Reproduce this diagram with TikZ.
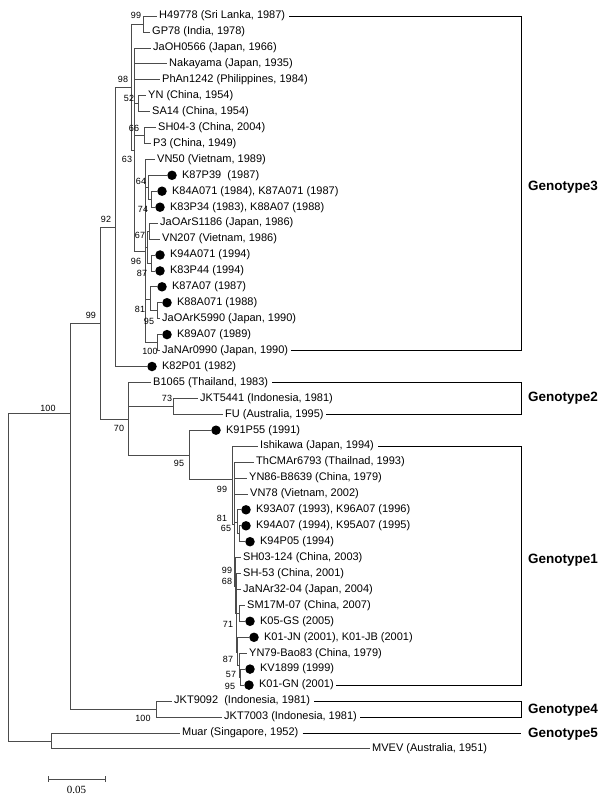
\documentclass[tikz,border=0pt]{standalone}
\usepackage{fontspec}
\setmainfont{Liberation Sans}
\newfontfamily\barfont{Liberation Serif}
\usetikzlibrary{positioning}
\tikzset{
  br/.style={draw=black!70, line width=.7pt},
  brk/.style={draw=black, line width=.75pt, shorten <=1.5pt},
  leaf/.style={anchor=west, inner xsep=2.5pt, inner ysep=1pt, font=\fontsize{11}{13}\selectfont},
  spot/.style={circle, fill=black, inner sep=0pt, minimum size=9.5pt},
  boot/.style={inner sep=0pt, font=\fontsize{9}{10}\selectfont},
  geno/.style={anchor=west, inner sep=0pt, font=\fontsize{13.5}{15}\selectfont\bfseries},
}
\begin{document}
\begin{tikzpicture}[x=1pt, y=-1pt]
  \useasboundingbox (0,0) rectangle (600,799);

  % inner nodes
  \coordinate (root) at (8,577);
  \coordinate (n100) at (70,413);
  \coordinate (n99) at (100,323);
  \coordinate (n92) at (115,227);
  \coordinate (n98) at (131,87);
  \coordinate (n99a) at (143,24);
  \coordinate (n63) at (134,150);
  \coordinate (n52) at (138,103.6);
  \coordinate (n66) at (144,135.5);
  \coordinate (nvn) at (145,251);
  \coordinate (n64) at (148,187);
  \coordinate (n74) at (151,199.2);
  \coordinate (n96) at (147,247);
  \coordinate (n67) at (149,231);
  \coordinate (n87) at (151.5,263);
  \coordinate (n81) at (150,299);
  \coordinate (n95) at (157,310.7);
  \coordinate (n100b) at (157,342.5);
  \coordinate (n70) at (128,419);
  \coordinate (n73) at (173,406.3);
  \coordinate (n95b) at (189,455);
  \coordinate (g1) at (232,479);
  \coordinate (g1b) at (234,524);
  \coordinate (n81c) at (237,522);
  \coordinate (n65) at (239.5,533.7);
  \coordinate (n99d) at (235.5,586);
  \coordinate (n68) at (236.5,613);
  \coordinate (n71) at (239,613.4);
  \coordinate (n87c) at (237.5,652);
  \coordinate (n57) at (239,665);
  \coordinate (n95c) at (240.5,677);
  \coordinate (njkt) at (156,709);
  \coordinate (nout) at (51,741);

  % genotype 3
  \node[leaf] (H49778) at (156.5,16) {H49778 (Sri Lanka, 1987)};
  \node[leaf] (GP78) at (149.5,31.9) {GP78 (India, 1978)};
  \node[leaf] (JaOH0566) at (150.5,47.9) {JaOH0566 (Japan, 1966)};
  \node[leaf] (Nakayama) at (166.5,63.8) {Nakayama (Japan, 1935)};
  \node[leaf] (PhAn1242) at (159.5,79.7) {PhAn1242 (Philippines, 1984)};
  \node[leaf] (YN) at (145.5,95.7) {YN (China, 1954)};
  \node[leaf] (SA14) at (149.5,111.6) {SA14 (China, 1954)};
  \node[leaf] (SH043) at (155.5,127.5) {SH04-3 (China, 2004)};
  \node[leaf] (P3) at (150.5,143.4) {P3 (China, 1949)};
  \node[leaf] (VN50) at (154.5,159.4) {VN50 (Vietnam, 1989)};
  \node[spot] (dK87P39) at (172,175.3) {};
  \node[leaf, right=2.5pt of dK87P39] (K87P39) {K87P39~~(1987)};
  \node[spot] (dK84A071) at (162,191.2) {};
  \node[leaf, right=2.5pt of dK84A071] (K84A071) {K84A071 (1984), K87A071 (1987)};
  \node[spot] (dK83P34) at (160,207.2) {};
  \node[leaf, right=2.5pt of dK83P34] (K83P34) {K83P34 (1983), K88A07 (1988)};
  \node[leaf] (JaOArS1186) at (157.5,223.1) {JaOArS1186 (Japan, 1986)};
  \node[leaf] (VN207) at (159.5,239) {VN207 (Vietnam, 1986)};
  \node[spot] (dK94A071) at (160,255) {};
  \node[leaf, right=2.5pt of dK94A071] (K94A071) {K94A071 (1994)};
  \node[spot] (dK83P44) at (160,270.9) {};
  \node[leaf, right=2.5pt of dK83P44] (K83P44) {K83P44 (1994)};
  \node[spot] (dK87A07) at (162,286.8) {};
  \node[leaf, right=2.5pt of dK87A07] (K87A07) {K87A07 (1987)};
  \node[spot] (dK88A071) at (167,302.7) {};
  \node[leaf, right=2.5pt of dK88A071] (K88A071) {K88A071 (1988)};
  \node[leaf] (JaOArK5990) at (159.5,318.7) {JaOArK5990 (Japan, 1990)};
  \node[spot] (dK89A07) at (167,334.6) {};
  \node[leaf, right=2.5pt of dK89A07] (K89A07) {K89A07 (1989)};
  \node[leaf] (JaNAr0990) at (159.5,350.5) {JaNAr0990 (Japan, 1990)};
  \node[spot] (dK82P01) at (152,366.5) {};
  \node[leaf, right=2.5pt of dK82P01] (K82P01) {K82P01 (1982)};

  % genotype 2
  \node[leaf] (B1065) at (150.5,382.4) {B1065 (Thailand, 1983)};
  \node[leaf] (JKT5441) at (197.5,398.3) {JKT5441 (Indonesia, 1981)};
  \node[leaf] (FU) at (222.5,414.3) {FU (Australia, 1995)};

  % genotype 1
  \node[spot] (dK91P55) at (216,430.2) {};
  \node[leaf, right=2.5pt of dK91P55] (K91P55) {K91P55 (1991)};
  \node[leaf] (Ishikawa) at (257.5,446.1) {Ishikawa (Japan, 1994)};
  \node[leaf] (ThCMAr6793) at (253.5,462) {ThCMAr6793 (Thailnad, 1993)};
  \node[leaf] (YN86) at (246.5,478) {YN86-B8639 (China, 1979)};
  \node[leaf] (VN78) at (247.5,493.9) {VN78 (Vietnam, 2002)};
  \node[spot] (dK93A07) at (246,509.8) {};
  \node[leaf, right=2.5pt of dK93A07] (K93A07) {K93A07 (1993), K96A07 (1996)};
  \node[spot] (dK94A07) at (246,525.8) {};
  \node[leaf, right=2.5pt of dK94A07] (K94A07) {K94A07 (1994), K95A07 (1995)};
  \node[spot] (dK94P05) at (250,541.7) {};
  \node[leaf, right=2.5pt of dK94P05] (K94P05) {K94P05 (1994)};
  \node[leaf] (SH03124) at (240.5,557.6) {SH03-124 (China, 2003)};
  \node[leaf] (SH53) at (240.5,573.6) {SH-53 (China, 2001)};
  \node[leaf] (JaNAr3204) at (240.5,589.5) {JaNAr32-04 (Japan, 2004)};
  \node[leaf] (SM17M07) at (244.5,605.4) {SM17M-07 (China, 2007)};
  \node[spot] (dK05GS) at (250,621.3) {};
  \node[leaf, right=2.5pt of dK05GS] (K05GS) {K05-GS (2005)};
  \node[spot] (dK01JN) at (254,637.3) {};
  \node[leaf, right=2.5pt of dK01JN] (K01JN) {K01-JN (2001), K01-JB (2001)};
  \node[leaf] (YN79) at (246.5,653.2) {YN79-Bao83 (China, 1979)};
  \node[spot] (dKV1899) at (250,669.1) {};
  \node[leaf, right=2.5pt of dKV1899] (KV1899) {KV1899 (1999)};
  \node[spot] (dK01GN) at (249,685.1) {};
  \node[leaf, right=2.5pt of dK01GN] (K01GN) {K01-GN (2001)};

  % genotypes 4, 5 and outgroup
  \node[leaf] (JKT9092) at (171.5,701) {JKT9092~~(Indonesia, 1981)};
  \node[leaf] (JKT7003) at (221.5,716.9) {JKT7003 (Indonesia, 1981)};
  \node[leaf] (Muar) at (179.5,732.9) {Muar (Singapore, 1952)};
  \node[leaf] (MVEV) at (369.5,748.8) {MVEV (Australia, 1951)};

  % branches
  \draw[br] (root) |- (n100);
  \draw[br] (root) |- (nout);
  \draw[br] (n100) |- (n99);
  \draw[br] (n100) |- (njkt);
  \draw[br] (n99) |- (n92);
  \draw[br] (n99) |- (n70);
  \draw[br] (n92) |- (n98);
  \draw[br] (n92) |- (dK82P01.west);
  \draw[br] (n98) |- (n99a);
  \draw[br] (n98) |- (n63);
  \draw[br] (n99a) |- (H49778.west);
  \draw[br] (n99a) |- (GP78.west);
  \draw[br] (n63) |- (JaOH0566.west);
  \draw[br] (n63) |- (Nakayama.west);
  \draw[br] (n63) |- (PhAn1242.west);
  \draw[br] (n63) |- (n52);
  \draw[br] (n63) |- (n66);
  \draw[br] (n63) |- (nvn);
  \draw[br] (n52) |- (YN.west);
  \draw[br] (n52) |- (SA14.west);
  \draw[br] (n66) |- (SH043.west);
  \draw[br] (n66) |- (P3.west);
  \draw[br] (nvn) |- (VN50.west);
  \draw[br] (nvn) |- (n64);
  \draw[br] (nvn) |- (n96);
  \draw[br] (nvn) |- (n81);
  \draw[br] (nvn) |- (n100b);
  \draw[br] (n64) |- (dK87P39.west);
  \draw[br] (n64) |- (n74);
  \draw[br] (n74) |- (dK84A071.west);
  \draw[br] (n74) |- (dK83P34.west);
  \draw[br] (n96) |- (n67);
  \draw[br] (n96) |- (n87);
  \draw[br] (n67) |- (JaOArS1186.west);
  \draw[br] (n67) |- (VN207.west);
  \draw[br] (n87) |- (dK94A071.west);
  \draw[br] (n87) |- (dK83P44.west);
  \draw[br] (n81) |- (dK87A07.west);
  \draw[br] (n81) |- (n95);
  \draw[br] (n95) |- (dK88A071.west);
  \draw[br] (n95) |- (JaOArK5990.west);
  \draw[br] (n100b) |- (dK89A07.west);
  \draw[br] (n100b) |- (JaNAr0990.west);
  \draw[br] (n70) |- (B1065.west);
  \draw[br] (n70) |- (n73);
  \draw[br] (n70) |- (n95b);
  \draw[br] (n73) |- (JKT5441.west);
  \draw[br] (n73) |- (FU.west);
  \draw[br] (n95b) |- (dK91P55.west);
  \draw[br] (n95b) |- (g1);
  \draw[br] (g1) |- (Ishikawa.west);
  \draw[br] (g1) |- (g1b);
  \draw[br] (g1b) |- (ThCMAr6793.west);
  \draw[br] (g1b) |- (YN86.west);
  \draw[br] (g1b) |- (VN78.west);
  \draw[br] (g1b) |- (n81c);
  \draw[br] (g1b) |- (n99d);
  \draw[br] (n81c) |- (dK93A07.west);
  \draw[br] (n81c) |- (n65);
  \draw[br] (n65) |- (dK94A07.west);
  \draw[br] (n65) |- (dK94P05.west);
  \draw[br] (n99d) |- (SH03124.west);
  \draw[br] (n99d) |- (n68);
  \draw[br] (n68) |- (SH53.west);
  \draw[br] (n68) |- (JaNAr3204.west);
  \draw[br] (n68) |- (n71);
  \draw[br] (n68) |- (n87c);
  \draw[br] (n71) |- (SM17M07.west);
  \draw[br] (n71) |- (dK05GS.west);
  \draw[br] (n87c) |- (dK01JN.west);
  \draw[br] (n87c) |- (n57);
  \draw[br] (n57) |- (YN79.west);
  \draw[br] (n57) |- (n95c);
  \draw[br] (n95c) |- (dKV1899.west);
  \draw[br] (n95c) |- (dK01GN.west);
  \draw[br] (njkt) |- (JKT9092.west);
  \draw[br] (njkt) |- (JKT7003.west);
  \draw[br] (nout) |- (Muar.west);
  \draw[br] (nout) |- (MVEV.west);

  % bootstrap values
  \node[boot] (b99a) at (136,15) {99};
  \node[boot] (b98) at (123,79) {98};
  \node[boot] (b52) at (129,98) {52};
  \node[boot] (b66) at (134,128) {66};
  \node[boot] (b63) at (127,159) {63};
  \node[boot] (b64) at (141,181) {64};
  \node[boot] (b74) at (143,209) {74};
  \node[boot] (b67) at (140,235) {67};
  \node[boot] (b96) at (136,261) {96};
  \node[boot] (b87) at (142,273) {87};
  \node[boot] (b81) at (140,309) {81};
  \node[boot] (b95) at (149,321) {95};
  \node[boot] (b100a) at (150,351) {100};
  \node[boot] (b92) at (106,219) {92};
  \node[boot] (b99b) at (91,315) {99};
  \node[boot] (b70) at (119,428) {70};
  \node[boot] (b73) at (167,398) {73};
  \node[boot] (b95b) at (179,463) {95};
  \node[boot] (b99c) at (222,489) {99};
  \node[boot] (b81c) at (222,518) {81};
  \node[boot] (b65) at (226,528.5) {65};
  \node[boot] (b99d) at (227,570.5) {99};
  \node[boot] (b68) at (227,581) {68};
  \node[boot] (b71) at (228,624) {71};
  \node[boot] (b87c) at (228,659) {87};
  \node[boot] (b57) at (231,674) {57};
  \node[boot] (b95c) at (230,686) {95};
  \node[boot] (b100r) at (48,408) {100};
  \node[boot] (b100j) at (143,718) {100};

  % genotype brackets
  \coordinate (g3a) at (521,16);
  \coordinate (g3b) at (521,350.5);
  \coordinate (g2a) at (521,382.4);
  \coordinate (g2b) at (521,414.3);
  \coordinate (g1a) at (521,446.1);
  \coordinate (g1z) at (521,685.1);
  \coordinate (g4a) at (521,701);
  \coordinate (g4b) at (521,716.9);
  \coordinate (g5) at (521,732.9);
  \draw[brk] (H49778.east) -- (g3a) -- (g3b) -- (JaNAr0990.east);
  \draw[brk] (B1065.east) -- (g2a) -- (g2b) -- (FU.east);
  \draw[brk] (Ishikawa.east) -- (g1a) -- (g1z) -- (K01GN.east);
  \draw[brk] (JKT9092.east) -- (g4a) -- (g4b) -- (JKT7003.east);
  \draw[brk] (Muar.east) -- (g5);
  \node[geno] (G3) at (528,187) {Genotype3};
  \node[geno] (G2) at (528,398) {Genotype2};
  \node[geno] (G1) at (528,560) {Genotype1};
  \node[geno] (G4) at (528,710) {Genotype4};
  \node[geno] (G5) at (528,734) {Genotype5};

  % scale bar
  \coordinate (sbl) at (48,779);
  \coordinate (sbr) at (105,779);
  \draw[br] (sbl) -- (sbr);
  \draw[br] (sbl) ++(0,-3) -- ++(0,6);
  \draw[br] (sbr) ++(0,-3) -- ++(0,6);
  \node[inner sep=0pt, font=\barfont\fontsize{11}{13}\selectfont] (sblab) at (76.5,790) {0.05};
\end{tikzpicture}
\end{document}
